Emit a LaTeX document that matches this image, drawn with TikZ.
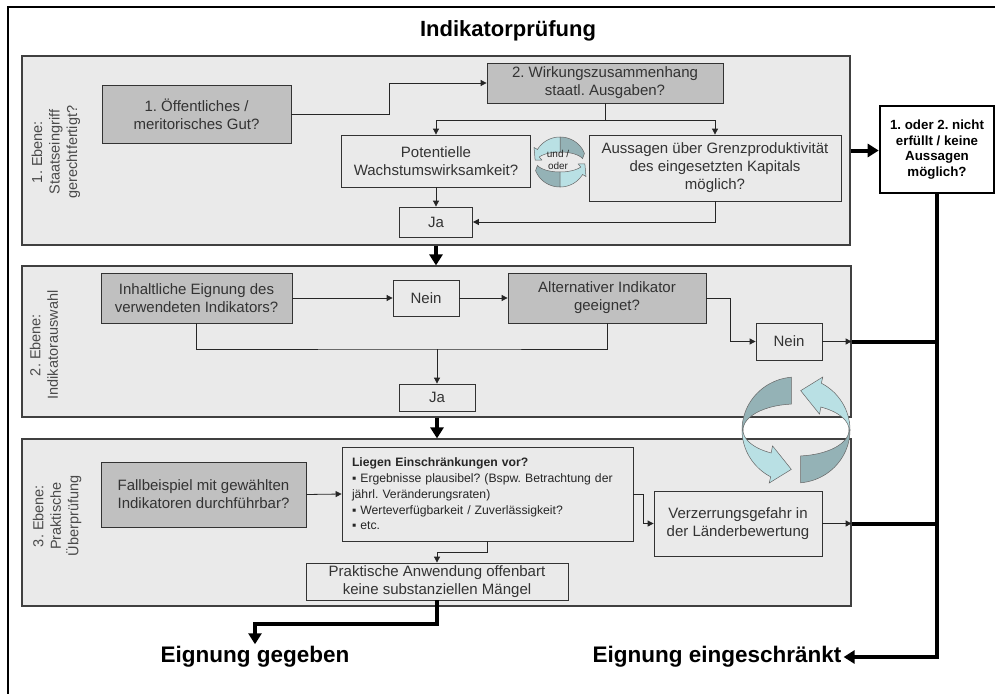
\documentclass[tikz,border=0pt]{standalone}
\usepackage{fontspec}
\setmainfont{Liberation Sans}
\usetikzlibrary{arrows.meta}
\frenchspacing
\definecolor{panelbg}{HTML}{EAEAEA}
\definecolor{boxgray}{HTML}{C0C0C0}
\definecolor{txt}{HTML}{333333}
\definecolor{lbl}{HTML}{4A4A4A}
\definecolor{ringdark}{HTML}{94B2B6}
\definecolor{ringlight}{HTML}{B9E0E4}
\newcommand\setring[6]{\def\rcx{#1}\def\rcy{#2}\def\rxo{#3}\def\ryo{#4}\def\rxi{#5}\def\ryi{#6}}
\newcommand\sethead[5]{\def\hxo{#1}\def\hyo{#2}\def\hxi{#3}\def\hyi{#4}\def\htip{#5}}
\newcommand\ringarrow[3]{%
  \filldraw[fill=ringdark,draw=black!60,line width=0.5pt]
    plot[domain=#1:#2,samples=24] ({\rcx+\rxo*cos(\x)},{\rcy-\ryo*sin(\x)})
    -- plot[domain=#2:#1,samples=24] ({\rcx+\rxi*cos(\x)},{\rcy-\ryi*sin(\x)}) -- cycle;
  \filldraw[fill=ringlight,draw=black!60,line width=0.5pt]
    plot[domain=#2:#3,samples=24] ({\rcx+\rxo*cos(\x)},{\rcy-\ryo*sin(\x)})
    -- ({\rcx+\hxo*cos(#3)},{\rcy-\hyo*sin(#3)})
    -- ({\rcx+(\rxo+\rxi)/2*cos(#3+\htip)},{\rcy-(\ryo+\ryi)/2*sin(#3+\htip)})
    -- ({\rcx+\hxi*cos(#3)},{\rcy-\hyi*sin(#3)})
    -- plot[domain=#3:#2,samples=24] ({\rcx+\rxi*cos(\x)},{\rcy-\ryi*sin(\x)}) -- cycle;
}
\begin{document}
\begin{tikzpicture}[x=1pt,y=-1pt,
  panel/.style={draw=black!75, line width=1.2pt, fill=panelbg, inner sep=0pt},
  box/.style={draw=black!80, line width=0.8pt, fill=panelbg, text=txt, align=center, inner sep=0pt, font=\fontsize{15}{18}\selectfont},
  gbox/.style={box, fill=boxgray},
  lab/.style={rotate=90, align=center, text=lbl, font=\fontsize{14.5}{17.5}\selectfont},
  arr/.style={draw=black!85, line width=0.8pt, -{Triangle[width=6pt,length=6pt]}},
  ln/.style={draw=black!85, line width=0.8pt},
  bigarr/.style={line width=4pt, -{Triangle[width=13pt,length=11pt]}},
  bigln/.style={line width=4pt},
  result/.style={font=\bfseries\fontsize{22.5}{27}\selectfont, inner sep=2pt}
]
\useasboundingbox (0,0) rectangle (995,693);
\draw[line width=1.3pt] (8,700) -- (8,7) -- (1000,7);
\node[font=\bfseries\fontsize{22}{26}\selectfont] (title) at (508,31) {Indikatorprüfung};

% panels
\node[panel, minimum width=828pt, minimum height=189pt] (p1) at (436,150.5) {};
\node[panel, minimum width=829pt, minimum height=151pt] (p2) at (436.5,341.5) {};
\node[panel, minimum width=829pt, minimum height=167pt] (p3) at (436.5,522.5) {};

\node[lab] (l1) at (56,152) {1. Ebene:\\Staatseingriff\\gerechtfertigt?};
\node[lab] (l2) at (44,345) {2. Ebene:\\Indikatorauswahl};
\node[lab] (l3) at (57,516) {3. Ebene:\\Praktische\\Überprüfung};

% panel 1
\node[gbox, minimum width=189pt, minimum height=58pt] (b1) at (196.5,114) {1. Öffentliches /\\meritorisches Gut?};
\node[gbox, minimum width=236pt, minimum height=40pt] (b2) at (605,83) {2. Wirkungszusammenhang\\staatl. Ausgaben?};
\node[box, minimum width=189pt, minimum height=52pt] (pot) at (436,161) {Potentielle\\Wachstumswirksamkeit?};
\node[box, minimum width=252pt, minimum height=66pt] (aus) at (715,168) {Aussagen über Grenzproduktivität\\des eingesetzten Kapitals\\möglich?};
\node[box, minimum width=73pt, minimum height=30pt] (ja1) at (436,222) {Ja};
\node[draw=black, line width=2.6pt, fill=white, align=center, inner sep=0pt,
      minimum width=114pt, minimum height=87pt, font=\bfseries\fontsize{13.3}{15.5}\selectfont] (nb) at (937,149.5)
      {1. oder 2. nicht\\erfüllt / keine\\Aussagen\\möglich?};

\draw[arr] (b1.east) -- ++(98,0) |- (b2.west);
\coordinate (s2) at (605,120);
\draw[ln] (b2.south) -- (s2);
\draw[arr] (s2) -| (pot.north);
\draw[arr] (s2) -| (aus.north);
\draw[arr] (pot.south) -- (ja1.north);
\draw[arr] (aus.south) |- (ja1.east);
\draw[bigarr] (ja1.south |- p1.south) -- (ja1.south |- p2.north);
\draw[bigarr] (p1.east) -- (nb.west |- p1.east);

% panel 2
\node[gbox, minimum width=191pt, minimum height=50pt] (inh) at (196.5,298) {Inhaltliche Eignung des\\verwendeten Indikators?};
\node[box, minimum width=66pt, minimum height=36pt] (n1) at (426,298) {Nein};
\node[gbox, minimum width=198pt, minimum height=50pt] (alt) at (607,298) {Alternativer Indikator\\geeignet?};
\node[box, minimum width=66pt, minimum height=37pt] (n2) at (789,341.5) {Nein};
\node[box, minimum width=76pt, minimum height=27pt] (ja2) at (437,397.5) {Ja};

\draw[arr] (inh.east) -- (n1.west);
\draw[arr] (n1.east) -- (alt.west);
\draw[arr] (alt.east) -- ++(24,0) |- (n2.west);
\coordinate (j2) at (437,349);
\draw[ln] (inh.south) |- (j2) -| (alt.south);
\draw[arr] (j2) -- (ja2.north);
\draw[arr] (n2.east) -- (p2.east |- n2.east);
\draw[bigln] (p2.east |- n2.east) -- (nb.south |- n2.east);
\draw[bigarr] (ja2.south |- p2.south) -- (ja2.south |- p3.north);

% panel 3
\node[gbox, minimum width=205pt, minimum height=65pt] (fall) at (203.5,494.5) {Fallbeispiel mit gewählten\\Indikatoren durchführbar?};
\node[box, text width=271pt, inner xsep=10pt, minimum height=94pt, align=left, text=black!85,
      font=\fontsize{12.2}{15.7}\selectfont] (lieg) at (487.5,494)
      {\textbf{Liegen Einschränkungen vor?}\\
       ▪ Ergebnisse plausibel? (Bspw. Betrachtung der\\
       jährl. Veränderungsraten)\\
       ▪ Werteverfügbarkeit / Zuverlässigkeit?\\
       ▪ etc.};
\node[box, minimum width=262pt, minimum height=37pt] (prak) at (437,581.5) {Praktische Anwendung offenbart\\keine substanziellen Mängel};
\node[box, minimum width=168pt, minimum height=65pt] (verz) at (738,523.5) {Verzerrungsgefahr in\\der Länderbewertung};

\draw[arr] (fall.east) -- (lieg.west);
\draw[arr] (lieg.south) -- ++(0,11) -| (prak.north);
\draw[arr] (lieg.east) -- ++(10,0) |- (verz.west);
\draw[arr] (verz.east) -- (p3.east |- verz.east);
\draw[bigln] (p3.east |- verz.east) -- (nb.south |- verz.east);

% results
\node[result] (eg) at (255,657) {Eignung gegeben};
\node[result] (ee) at (717,657) {Eignung eingeschränkt};
\draw[bigarr] (prak.south) -- ++(0,24) -| (eg.north);
\draw[bigarr] (nb.south) |- (ee.east);

% small cyclic arrows
\setring{560}{162}{26}{25}{24}{10}
\sethead{30}{29}{21}{4}{24}
\ringarrow{20}{90}{150}
\ringarrow{200}{270}{330}
\node[font=\fontsize{10}{11.5}\selectfont, align=center, text=black!85, inner sep=0pt] (uo) at (558,160) {und /\\oder};

% big cyclic arrows
\setring{796}{430}{54}{53}{53}{26}
\sethead{57}{60}{50}{18}{23}
\ringarrow{95}{180}{242}
\ringarrow{275}{360}{422}
\end{tikzpicture}
\end{document}
